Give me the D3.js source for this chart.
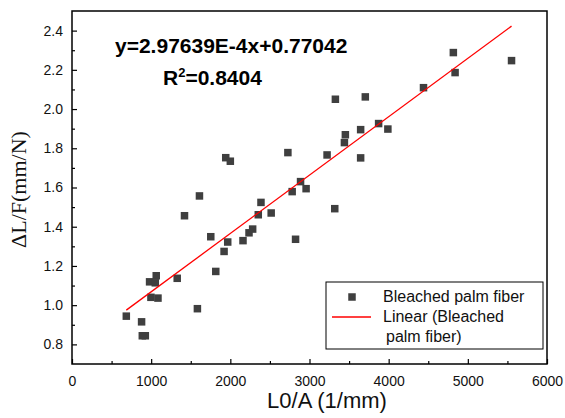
<!DOCTYPE html>
<html><head><meta charset="utf-8">
<script src="https://cdn.jsdelivr.net/npm/d3@7"></script>
<style>body{margin:0;background:#fff;} svg{display:block;}</style>
</head><body>
<svg id="chart" width="565" height="418"></svg>
<script>
const xValues = [686,879,888,926,980,1064,1052,997,1086,1329,1584,1421,1610,1753,1816,1921,1967,2160,2236,2282,2353,2387,2516,2781,2824,2957,2887,1942,2000,2727,4817,5552,4839,4440,3327,3705,3873,3646,3990,3453,3441,3222,3646,3319];
const yValues = [0.944,0.915,0.844,0.844,1.119,1.150,1.114,1.040,1.036,1.137,0.982,1.456,1.557,1.349,1.172,1.274,1.322,1.329,1.369,1.388,1.461,1.524,1.470,1.579,1.336,1.594,1.630,1.752,1.734,1.778,2.288,2.247,2.186,2.109,2.050,2.062,1.926,1.895,1.898,1.869,1.829,1.766,1.751,1.492];
const slope = 2.97639e-4, intercept = 0.77042;
const xTicks = [0,1000,2000,3000,4000,5000,6000];
const yTicks = [0.8,1.0,1.2,1.4,1.6,1.8,2.0,2.2,2.4];
const seriesName = "Bleached palm fiber";

const svg = d3.select("#chart");
const L = 72, R = 547, T = 11, B = 364;
const x = d3.scaleLinear().domain([0,6000]).range([L,R]);
const y = d3.scaleLinear().domain([0.7,2.5]).range([B,T]);
const font = "Arial, 'Liberation Sans', sans-serif";

// frame
svg.append("rect").attr("x",L).attr("y",T).attr("width",R-L).attr("height",B-T)
  .attr("fill","none").attr("stroke","#000").attr("stroke-width",1.5);

// x axis
const xAxis = d3.axisBottom(x).tickValues(xTicks).tickSize(-5).tickPadding(12).tickFormat(d3.format("d"));
const gx = svg.append("g").attr("transform",`translate(0,${B})`).call(xAxis);
gx.select(".domain").remove();
gx.selectAll("text").attr("font-family",font).attr("font-size",14).attr("fill","#111");
gx.selectAll("line").attr("stroke-width",1.2);
const xMinor = d3.axisBottom(x).tickValues(d3.range(500,6000,1000)).tickSize(-3).tickFormat("");
const gxm = svg.append("g").attr("transform",`translate(0,${B})`).call(xMinor);
gxm.select(".domain").remove();
gxm.selectAll("line").attr("stroke-width",1.2);

// y axis
const yAxis = d3.axisLeft(y).tickValues(yTicks).tickSize(-5).tickPadding(9).tickFormat(d3.format(".1f"));
const gy = svg.append("g").attr("transform",`translate(${L},0)`).call(yAxis);
gy.select(".domain").remove();
gy.selectAll("text").attr("font-family",font).attr("font-size",14).attr("fill","#111");
gy.selectAll("line").attr("stroke-width",1.2);
const yMinor = d3.axisLeft(y).tickValues([0.9,1.1,1.3,1.5,1.7,1.9,2.1,2.3]).tickSize(-3).tickFormat("");
const gym = svg.append("g").attr("transform",`translate(${L},0)`).call(yMinor);
gym.select(".domain").remove();
gym.selectAll("line").attr("stroke-width",1.2);

// axis titles
svg.append("text").attr("x",327).attr("y",408).attr("text-anchor","middle")
  .attr("font-family",font).attr("font-size",22).attr("fill","#111").text("L0/A (1/mm)");
svg.append("text").attr("transform",`translate(26,${(T+B)/2+2}) rotate(-90)`).attr("text-anchor","middle")
  .attr("font-family","'Liberation Serif','Times New Roman',serif").attr("font-size",22).attr("fill","#111")
  .text("ΔL/F(mm/N)");

// points
const pts = xValues.map((v,i)=>({x:v,y:yValues[i]}));
const ms = 7.5;
svg.append("g").selectAll("rect").data(pts).join("rect")
  .attr("x",d=>x(d.x)-ms/2).attr("y",d=>y(d.y)-ms/2).attr("width",ms).attr("height",ms)
  .attr("fill","#3f3f3f");

// regression line
const x0 = d3.min(xValues), x1 = d3.max(xValues);
svg.append("line").attr("x1",x(x0)).attr("y1",y(intercept+slope*x0))
  .attr("x2",x(x1)).attr("y2",y(intercept+slope*x1))
  .attr("stroke","#ff0000").attr("stroke-width",1.3);

// equation text
svg.append("text").attr("x",115).attr("y",53).attr("font-family",font).attr("font-weight","bold")
  .attr("font-size",21).attr("fill","#000").text("y=2.97639E-4x+0.77042");
const r2 = svg.append("text").attr("x",163).attr("y",85).attr("font-family",font).attr("font-weight","bold")
  .attr("font-size",21).attr("fill","#000");
r2.append("tspan").text("R");
r2.append("tspan").attr("font-size",13).attr("dy",-8).text("2");
r2.append("tspan").attr("dy",8).text("=0.8404");

// legend
svg.append("rect").attr("x",326).attr("y",282).attr("width",217).attr("height",67)
  .attr("fill","#fff").attr("stroke","#000").attr("stroke-width",1);
svg.append("rect").attr("x",352-ms/2).attr("y",297-ms/2).attr("width",ms).attr("height",ms).attr("fill","#3f3f3f");
svg.append("line").attr("x1",332).attr("x2",371).attr("y1",317).attr("y2",317).attr("stroke","#ff0000").attr("stroke-width",1.3);
const lg = [[383,302,seriesName],[383,322,"Linear (Bleached"],[386,342,"palm fiber)"]];
lg.forEach(([lx,ly,t])=>svg.append("text").attr("x",lx).attr("y",ly).attr("font-family",font)
  .attr("font-size",16).attr("fill","#111").text(t));
</script>
</body></html>
